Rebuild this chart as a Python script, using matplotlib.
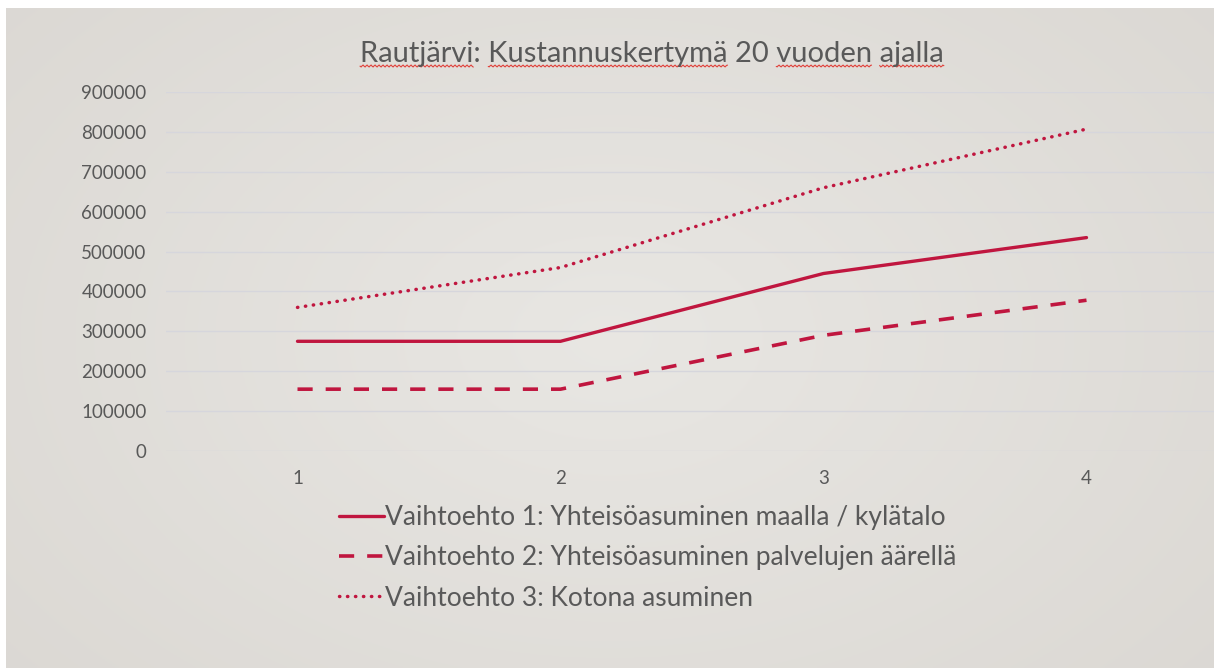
import numpy as np
import matplotlib.pyplot as plt
from matplotlib.lines import Line2D
from matplotlib.font_manager import FontProperties

# data
periods = [1, 2, 3, 4]
vaihtoehto1 = [275000, 275000, 445000, 535000]
vaihtoehto2 = [155000, 155000, 290000, 378000]
vaihtoehto3 = [360000, 460000, 660000, 807000]
labels = [
    "Vaihtoehto 1: Yhteisöasuminen maalla / kylätalo",
    "Vaihtoehto 2: Yhteisöasuminen palvelujen äärellä",
    "Vaihtoehto 3: Kotona asuminen",
]
yticks = np.arange(0, 900001, 100000)
title = "Rautjärvi: Kustannuskertymä 20 vuoden ajalla"
# words with the red spell-check squiggle under them
squiggle_words = ["Rautjärvi", "Kustannuskertymä", "vuoden", "ajalla"]

plt.rcParams['font.family'] = ['Lato', 'DejaVu Sans']
red = '#c0163f'
grey = '#595959'

W, H = 1214, 668
fig = plt.figure(figsize=(W / 100, H / 100), dpi=100)
fig.patch.set_facecolor('white')

# slide background: soft radial gradient, white strip top/left
bg = fig.add_axes([6 / W, 0, 1 - 6 / W, 1 - 8 / H])
yy, xx = np.mgrid[0:1:300j, 0:1:500j]
r = np.sqrt(((xx - 0.5) * 1.1) ** 2 + ((yy - 0.5) * 0.9) ** 2)
light = np.array([0.912, 0.905, 0.890])
dark = np.array([0.862, 0.850, 0.832])
t = np.clip(r / 0.7, 0, 1)[..., None]
img = light * (1 - t) + dark * t
bg.imshow(img, aspect='auto', extent=[0, 1, 0, 1], origin='lower')
bg.axis('off')

ax = fig.add_axes([166 / W, (H - 451) / H, 1 - 166 / W, 359 / H])
ax.set_facecolor('none')
ax.plot(periods, vaihtoehto1, color=red, lw=2.4, solid_capstyle='round', label=labels[0])
ax.plot(periods, vaihtoehto2, color=red, lw=2.6, linestyle=(0, (4.2, 3.6)), label=labels[1])
ax.plot(periods, vaihtoehto3, color=red, lw=2.5, linestyle=(0, (0.1, 2.2)),
        dash_capstyle='round', label=labels[2])

ax.set_ylim(0, 900000)
ax.set_xlim(0.5, 4.5 - 4 / 263)
ax.set_yticks(yticks)
ax.set_yticklabels([str(v) for v in yticks])
ax.set_xticks(periods)
ax.tick_params(axis='both', length=0, colors=grey, labelsize=13.5)
ax.tick_params(axis='y', pad=14)
ax.tick_params(axis='x', pad=14)
ax.grid(axis='y', color='#d6d6dc', lw=1)
ax.set_axisbelow(True)
for s in ax.spines.values():
    s.set_visible(False)

# title, with the squiggly underlines from the screenshot
fp = FontProperties(family=['Lato', 'DejaVu Sans'], size=21)
renderer = fig.canvas.get_renderer()


def text_w(s):
    return renderer.get_text_width_height_descent(s, fp, ismath=False)[0]


cx, base = 652, 62
x0 = cx - text_w(title) / 2
fig.text(x0 / W, 1 - base / H, title, ha='left', va='baseline',
         fontproperties=fp, color=grey)
for wd in squiggle_words:
    i = title.index(wd)
    xa = x0 + text_w(title[:i]) if i > 0 else x0
    xb = x0 + text_w(title[:i + len(wd)])
    xs = np.arange(xa, xb, 1.0)
    ys = base + 4 + 1.0 * np.sin(xs * np.pi / 2)
    fig.add_artist(Line2D(xs / W, 1 - ys / H, color='#e0403a', lw=0.8,
                          transform=fig.transFigure))

leg = fig.legend(loc='upper left', bbox_to_anchor=(339 / W, 1 - 505 / H),
                 frameon=False, fontsize=19, labelcolor=grey,
                 borderpad=0, borderaxespad=0,
                 handlelength=1.7, handletextpad=0.05, labelspacing=0.58)

fig.savefig('out.png', dpi=100)
